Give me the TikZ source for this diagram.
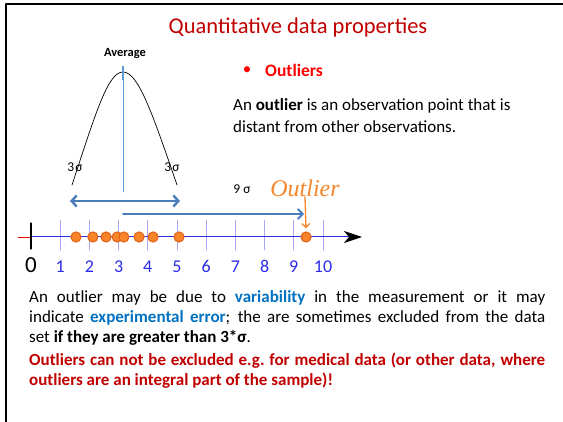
\documentclass[tikz,border=0pt]{standalone}
\usepackage{fontspec}
\setmainfont{Carlito}
\newfontfamily\handfont{Liberation Serif}
\usetikzlibrary{arrows.meta, calc, positioning}
\definecolor{odp-title}{HTML}{C00000}
\definecolor{odp-red}{HTML}{FF0000}
\definecolor{odp-blue}{HTML}{0070C0}
\definecolor{odp-arrow}{HTML}{4A7EBB}
\definecolor{odp-avg}{HTML}{5B9BD5}
\definecolor{odp-orange}{HTML}{F7862A}
\definecolor{odp-orangedk}{HTML}{E4661A}
\definecolor{odp-axis}{HTML}{2B2BE8}
\definecolor{odp-tick}{HTML}{A8A8F4}
\tikzset{
  txt/.style={inner sep=0pt, font=\fontsize{17}{20.3}\selectfont},
  sigma/.style={inner sep=0pt, font=\fontsize{13.5}{15}\selectfont},
  numlabel/.style={inner sep=0pt, anchor=base, text=odp-axis, font=\fontsize{18}{20}\selectfont},
  datadot/.style={circle, draw=odp-orangedk, fill=odp-orange, line width=1.2pt,
    minimum size=10pt, inner sep=0pt},
}
\begin{document}
\begin{tikzpicture}[x=1pt, y=-1pt, >=Stealth, line cap=round, line join=round]
  \useasboundingbox (0,0) rectangle (563,422);
  % ramme
  \draw[line width=2pt] (6,422) -- (6,4.5) -- (563,4.5);
  % overskrift
  \node[inner sep=0pt, text=odp-title, font=\fontsize{22.5}{26}\selectfont]
    (title) at (298,28) {Quantitative data properties};
  % punkt og definition
  \node[txt, text=odp-red] (bullet) at (247,71) {\textbullet};
  \node[txt, text=odp-red, anchor=west, font=\fontsize{17.5}{20}\bfseries]
    (outliers) at (265,70) {Outliers};
  \node[txt, anchor=north west, align=left, font=\fontsize{17}{22}\selectfont]
    (defn) at (233,98) {An \textbf{outlier} is an observation point that is\\
    distant from other observations.};
  % normalfordeling
  \coordinate (bell-l) at (72,185);
  \coordinate (bell-top) at (123,72);
  \coordinate (bell-r) at (177,185);
  \draw[line width=0.7pt] (bell-l) .. controls (96,112) and (108,72) .. (bell-top)
    .. controls (138,72) and (152,112) .. (bell-r);
  \node[inner sep=0pt, font=\fontsize{12.5}{14}\bfseries] (avg) at (125,54) {Average};
  \coordinate (avg-top) at (123,66);
  \coordinate (avg-mid) at (123,80);
  \coordinate (avg-bot) at (123,192);
  \draw[odp-avg, line width=2.2pt, line cap=butt] (avg-top) -- (avg-mid);
  \draw[odp-avg, line width=0.8pt] (avg-mid) -- (avg-bot);
  \node[sigma] (sl) at (75,167) {3\kern1ptσ};
  \node[sigma] (sr) at (172,167) {3\kern1ptσ};
  % pile
  \coordinate (s3-l) at (70,201);
  \coordinate (s3-r) at (180,201);
  \draw[odp-arrow, line width=2.4pt, {Straight Barb[length=5pt,width=11pt]}-{Straight Barb[length=5pt,width=11pt]}] (s3-l) -- (s3-r);
  \coordinate (s9-l) at (123,214);
  \coordinate (s9-r) at (304,214);
  \draw[odp-arrow, line width=1.8pt, -{Straight Barb[length=5pt,width=10pt]}] (s9-l) -- (s9-r);
  \node[sigma] (s9) at (242,189) {9 σ};
  % tallinje
  \coordinate (ax-start) at (18,237);
  \coordinate (ax-zero) at (31,237);
  \coordinate (ax-end) at (362,237);
  \foreach \k in {1,...,10}{
    \draw[odp-tick, line width=0.8pt] ({31+29.2*\k},220) -- ({31+29.2*\k},250);
    \node[numlabel] (n\k) at ({31+29.2*\k},273) {\k};
  }
  \draw[red, line width=0.8pt] (ax-start) -- (ax-zero);
  \draw[odp-axis, line width=1pt, -{Stealth[black, length=18pt, width=12pt, inset=5pt]}] (ax-zero) -- (ax-end);
  \draw[black, line width=1.2pt] (31,223) -- (31,249);
  \node[inner sep=0pt, anchor=base, font=\fontsize{23}{25}\selectfont] (n0) at (31,273) {0};
  % datapunkter
  \foreach \v [count=\i] in {1.54,2.12,2.57,2.95,3.18,3.70,4.18,5.07}{
    \node[datadot] (d\i) at ({31+29.2*\v},237) {};
  }
  \node[datadot] (dout) at ({31+29.2*9.42},237) {};
  % outlier
  \node[inner sep=0pt, text=odp-orange, font=\handfont\itshape\fontsize{24}{26}\selectfont]
    (outlabel) at (305,188) {Outlier};
  \draw[odp-orange, line width=1.3pt, -{Straight Barb[length=4pt,width=8pt]}, shorten >=3pt]
    (outlabel.south) -- (dout.north);
  % tekst nederst
  \node[txt, anchor=north west, text width=516pt, align=justify] (para) at (29,290)
    {An outlier may be due to \textcolor{odp-blue}{\textbf{variability}} in the measurement or it may\linebreak
    indicate \textcolor{odp-blue}{\textbf{experimental error}}; the are sometimes excluded from the data\linebreak
    set \textbf{if they are greater than 3*σ}.\par\vspace{2pt}
    \textcolor{odp-title}{\textbf{Outliers can not be excluded e.g.\ for medical data (or other data, where\linebreak
    outliers are an integral part of the sample)!}}};
\end{tikzpicture}
\end{document}
